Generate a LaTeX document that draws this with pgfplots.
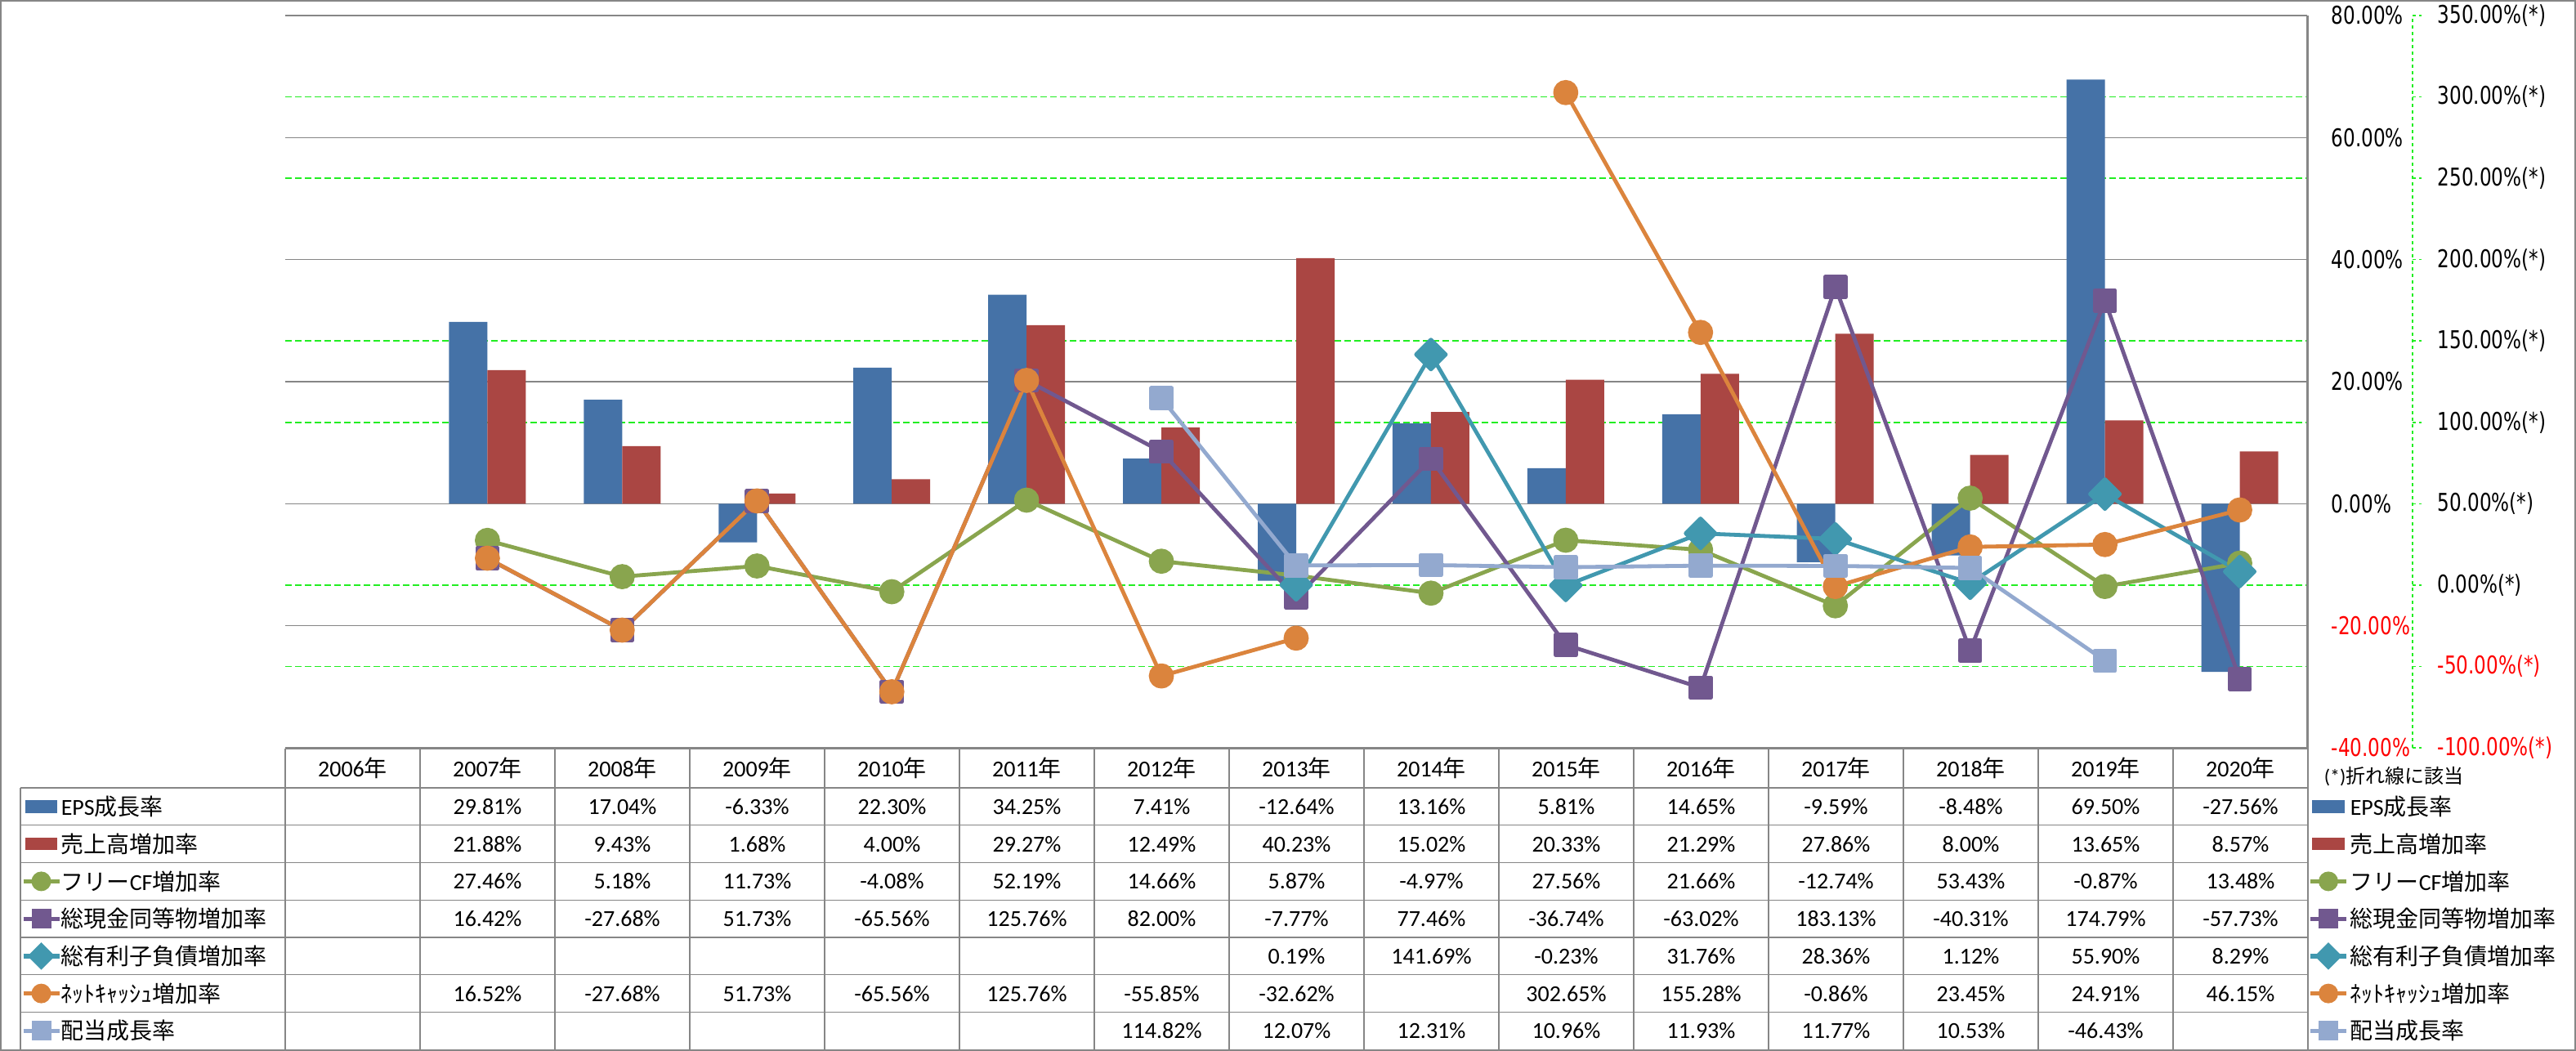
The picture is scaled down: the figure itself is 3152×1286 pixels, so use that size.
\documentclass[border=0pt]{standalone}
\usepackage{pgfplots}
\usepackage{pgfplotstable}
\pgfplotsset{compat=1.18}
\usepackage{fontspec}
\setmainfont{Carlito}
\newfontfamily\jp{Noto Sans CJK JP}
\newfontfamily\tickfont[FakeStretch=0.77]{DejaVu Sans}

\definecolor{cEPS}{HTML}{4572A7}
\definecolor{cSales}{HTML}{AA4643}
\definecolor{cFCF}{HTML}{89A54E}
\definecolor{cCash}{HTML}{71588F}
\definecolor{cDebt}{HTML}{4198AF}
\definecolor{cNet}{HTML}{DB843D}
\definecolor{cDiv}{HTML}{93A9CF}
\definecolor{gridgray}{HTML}{868686}
\definecolor{gridgreen}{HTML}{22EE22}

\pgfplotstableread{
x eps sales
1 29.81 21.88
2 17.04 9.43
3 -6.33 1.68
4 22.30 4.00
5 34.25 29.27
6 7.41 12.49
7 -12.64 40.23
8 13.16 15.02
9 5.81 20.33
10 14.65 21.29
11 -9.59 27.86
12 -8.48 8.00
13 69.50 13.65
14 -27.56 8.57
}\bardata

\pgfplotstableread{
x fcf cash debt net div
1 27.46 16.42 nan 16.52 nan
2 5.18 -27.68 nan -27.68 nan
3 11.73 51.73 nan 51.73 nan
4 -4.08 -65.56 nan -65.56 nan
5 52.19 125.76 nan 125.76 nan
6 14.66 82.00 nan -55.85 114.82
7 5.87 -7.77 0.19 -32.62 12.07
8 -4.97 77.46 141.69 nan 12.31
9 27.56 -36.74 -0.23 302.65 10.96
10 21.66 -63.02 31.76 155.28 11.93
11 -12.74 183.13 28.36 -0.86 11.77
12 53.43 -40.31 1.12 23.45 10.53
13 -0.87 174.79 55.90 24.91 -46.43
14 13.48 -57.73 8.29 46.15 nan
}\linedata

\newcommand{\tabfont}{\fontsize{7}{8}\selectfont}
\newcommand{\barkey}[3]{\fill[#1] (#2,#3) ++(-4.9pt,-1.9pt) rectangle ++(9.8pt,3.8pt);}
\newcommand{\linekey}[3]{\draw[#1, line width=1.3pt] (#2,#3) ++(-5.5pt,0) -- ++(11pt,0);}
\newcommand{\circkey}[3]{\linekey{#1}{#2}{#3}\fill[#1] (#2,#3) circle[radius=3pt];}
\newcommand{\sqkey}[3]{\linekey{#1}{#2}{#3}\fill[#1] (#2,#3) ++(-3pt,-3pt) rectangle ++(6pt,6pt);}
\newcommand{\diakey}[3]{\linekey{#1}{#2}{#3}\fill[#1] (#2,#3) ++(0,4.2pt) -- ++(4.2pt,-4.2pt) -- ++(-4.2pt,-4.2pt) -- ++(-4.2pt,4.2pt) -- cycle;}

\begin{document}
\begin{tikzpicture}
\begin{scope}[x=0.25pt,y=-0.25pt]
\useasboundingbox (0,0) rectangle (3152,1286);
\end{scope}

% secondary grid + labels
\begin{axis}[
  at={(87.25pt,-228.75pt)}, anchor=south west,
  scale only axis, width=618.5pt, height=224pt,
  xmin=-0.5, xmax=14.5, ymin=-100, ymax=350,
  xtick=\empty,
  ytick={-100,-50,0,50,100,150,200,250,300,350},
  yticklabels={\textcolor{red}{-100.00\%(*)},\textcolor{red}{-50.00\%(*)},0.00\%(*),50.00\%(*),100.00\%(*),150.00\%(*),200.00\%(*),250.00\%(*),300.00\%(*),350.00\%(*)},
  yticklabel pos=right,
  yticklabel style={font={\fontsize{7.5pt}{8pt}\tickfont}, anchor=west, inner sep=0pt, xshift=39.75pt},
  axis line style={draw=none},
  tick style={draw=none},
  major tick length=0pt,
  ymajorgrids, grid style={gridgreen, line width=0.4pt, dash pattern=on 2pt off 1pt},
  clip=false,
]
\addplot[draw=none] coordinates {(0,0)};
\draw[gridgreen, line width=0.4pt, dash pattern=on 1pt off 1pt] ([xshift=32.25pt]rel axis cs:1,0) -- ([xshift=32.25pt]rel axis cs:1,1);
\pgfplotsinvokeforeach{-100,-50,0,50,100,150,200,250,300,350}{
  \draw[gridgreen, line width=0.4pt, dash pattern=on 1pt off 1pt] ([xshift=32.25pt]axis cs:14.5,#1) -- ([xshift=35pt]axis cs:14.5,#1);
}
\end{axis}

% primary axis with bars
\begin{axis}[
  at={(87.25pt,-228.75pt)}, anchor=south west,
  scale only axis, width=618.5pt, height=224pt,
  xmin=-0.5, xmax=14.5, ymin=-40, ymax=80,
  xtick=\empty,
  ytick={-40,-20,0,20,40,60,80},
  yticklabels={\textcolor{red}{-40.00\%},\textcolor{red}{-20.00\%},0.00\%,20.00\%,40.00\%,60.00\%,80.00\%},
  yticklabel pos=right,
  yticklabel style={font={\fontsize{7.5pt}{8pt}\tickfont}, anchor=west, inner sep=0pt, xshift=7.25pt},
  axis line style={draw=none},
  tick style={draw=none},
  major tick length=0pt,
  ymajorgrids, grid style={gridgray, line width=0.35pt},
  ybar=0pt, bar width=11.75pt,
  clip=false,
]
\addplot[fill=cEPS, draw=none] table[x=x, y=eps] {\bardata};
\addplot[fill=cSales, draw=none] table[x=x, y=sales] {\bardata};
\draw[gridgray, line width=0.4pt] (rel axis cs:1,0) -- (rel axis cs:1,1);
\end{axis}

% lines on secondary scale
\begin{axis}[
  at={(87.25pt,-228.75pt)}, anchor=south west,
  scale only axis, width=618.5pt, height=224pt,
  xmin=-0.5, xmax=14.5, ymin=-100, ymax=350,
  xtick=\empty, ytick=\empty,
  axis line style={draw=none},
  unbounded coords=jump,
  clip=false,
  every axis plot/.append style={line width=1.2pt, line join=round},
]
\addplot[cFCF, mark=*, mark size=3.25pt, mark options={solid, fill=cFCF, draw=cFCF}] table[x=x, y=fcf] {\linedata};
\addplot[cCash, mark=square*, mark size=3.1pt, mark options={solid, fill=cCash, draw=cCash}] table[x=x, y=cash] {\linedata};
\addplot[cDebt, mark=square*, mark size=3.2pt, mark options={solid, fill=cDebt, draw=cDebt, rotate=45}] table[x=x, y=debt] {\linedata};
\addplot[cNet, mark=*, mark size=3.25pt, mark options={solid, fill=cNet, draw=cNet}] table[x=x, y=net] {\linedata};
\addplot[cDiv, mark=square*, mark size=3.1pt, mark options={solid, fill=cDiv, draw=cDiv}] table[x=x, y=div] {\linedata};
\end{axis}

% data table
\begin{scope}[x=0.25pt,y=-0.25pt]
\draw[gridgray, line width=0.35pt] (349,916) -- (2824,916);
\foreach \yy in {964,1009.75,1055.5,1101.25,1147,1192.75,1238.5,1284.25}
  \draw[gridgray, line width=0.35pt] (25,\yy) -- (2824,\yy);
\draw[gridgray, line width=0.35pt] (25,964) -- (25,1284.25);
\foreach \k in {0,...,15}
  \draw[gridgray, line width=0.35pt] (349+165*\k,916) -- (349+165*\k,1284.25);
\draw[gridgray, line width=0.4pt] (2824,19) -- (2824,916);
% header
\foreach \k in {0,...,14}{
  \pgfmathtruncatemacro{\yr}{2006+\k}
  \node[font=\tabfont, inner sep=0pt] at (431.5+165*\k,940) {\yr{\jp 年}};
}
% rows
\foreach \v [count=\k from 0] in {{},29.81\%,17.04\%,-6.33\%,22.30\%,34.25\%,7.41\%,-12.64\%,13.16\%,5.81\%,14.65\%,-9.59\%,-8.48\%,69.50\%,-27.56\%}
  \node[font=\tabfont, inner sep=0pt] at (431.5+165*\k,986.9) {\v};
\foreach \v [count=\k from 0] in {{},21.88\%,9.43\%,1.68\%,4.00\%,29.27\%,12.49\%,40.23\%,15.02\%,20.33\%,21.29\%,27.86\%,8.00\%,13.65\%,8.57\%}
  \node[font=\tabfont, inner sep=0pt] at (431.5+165*\k,1032.6) {\v};
\foreach \v [count=\k from 0] in {{},27.46\%,5.18\%,11.73\%,-4.08\%,52.19\%,14.66\%,5.87\%,-4.97\%,27.56\%,21.66\%,-12.74\%,53.43\%,-0.87\%,13.48\%}
  \node[font=\tabfont, inner sep=0pt] at (431.5+165*\k,1078.4) {\v};
\foreach \v [count=\k from 0] in {{},16.42\%,-27.68\%,51.73\%,-65.56\%,125.76\%,82.00\%,-7.77\%,77.46\%,-36.74\%,-63.02\%,183.13\%,-40.31\%,174.79\%,-57.73\%}
  \node[font=\tabfont, inner sep=0pt] at (431.5+165*\k,1124.1) {\v};
\foreach \v [count=\k from 0] in {{},{},{},{},{},{},{},0.19\%,141.69\%,-0.23\%,31.76\%,28.36\%,1.12\%,55.90\%,8.29\%}
  \node[font=\tabfont, inner sep=0pt] at (431.5+165*\k,1169.9) {\v};
\foreach \v [count=\k from 0] in {{},16.52\%,-27.68\%,51.73\%,-65.56\%,125.76\%,-55.85\%,-32.62\%,{},302.65\%,155.28\%,-0.86\%,23.45\%,24.91\%,46.15\%}
  \node[font=\tabfont, inner sep=0pt] at (431.5+165*\k,1215.6) {\v};
\foreach \v [count=\k from 0] in {{},{},{},{},{},{},114.82\%,12.07\%,12.31\%,10.96\%,11.93\%,11.77\%,10.53\%,-46.43\%,{}}
  \node[font=\tabfont, inner sep=0pt] at (431.5+165*\k,1261.4) {\v};

% row labels (left) and legend (right)
\foreach \xk/\xt in {50.5/74, 2849/2875}{
  \barkey{cEPS}{\xk}{986.9}
  \barkey{cSales}{\xk}{1032.6}
  \circkey{cFCF}{\xk}{1078.4}
  \sqkey{cCash}{\xk}{1124.1}
  \diakey{cDebt}{\xk}{1169.9}
  \circkey{cNet}{\xk}{1215.6}
  \sqkey{cDiv}{\xk}{1261.4}
  \node[font=\tabfont, anchor=west, inner sep=0pt] at (\xt,986.9) {EPS{\jp 成長率}};
  \node[font=\tabfont, anchor=west, inner sep=0pt] at (\xt,1032.6) {\jp 売上高増加率};
  \node[font=\tabfont, anchor=west, inner sep=0pt] at (\xt,1078.4) {{\jp フリー}CF{\jp 増加率}};
  \node[font=\tabfont, anchor=west, inner sep=0pt] at (\xt,1124.1) {\jp 総現金同等物増加率};
  \node[font=\tabfont, anchor=west, inner sep=0pt] at (\xt,1169.9) {\jp 総有利子負債増加率};
  \node[font=\tabfont, anchor=west, inner sep=0pt] at (\xt,1215.6) {\jp ﾈｯﾄｷｬｯｼｭ増加率};
  \node[font=\tabfont, anchor=west, inner sep=0pt] at (\xt,1261.4) {\jp 配当成長率};
}
\node[font=\fontsize{6}{7}\selectfont, anchor=west, inner sep=0pt] at (2843,950) {(*){\jp 折れ線に該当}};

% outer frame
\draw[gridgray, line width=0.5pt] (1,1) rectangle (3151,1285);
\end{scope}
\end{tikzpicture}
\end{document}
